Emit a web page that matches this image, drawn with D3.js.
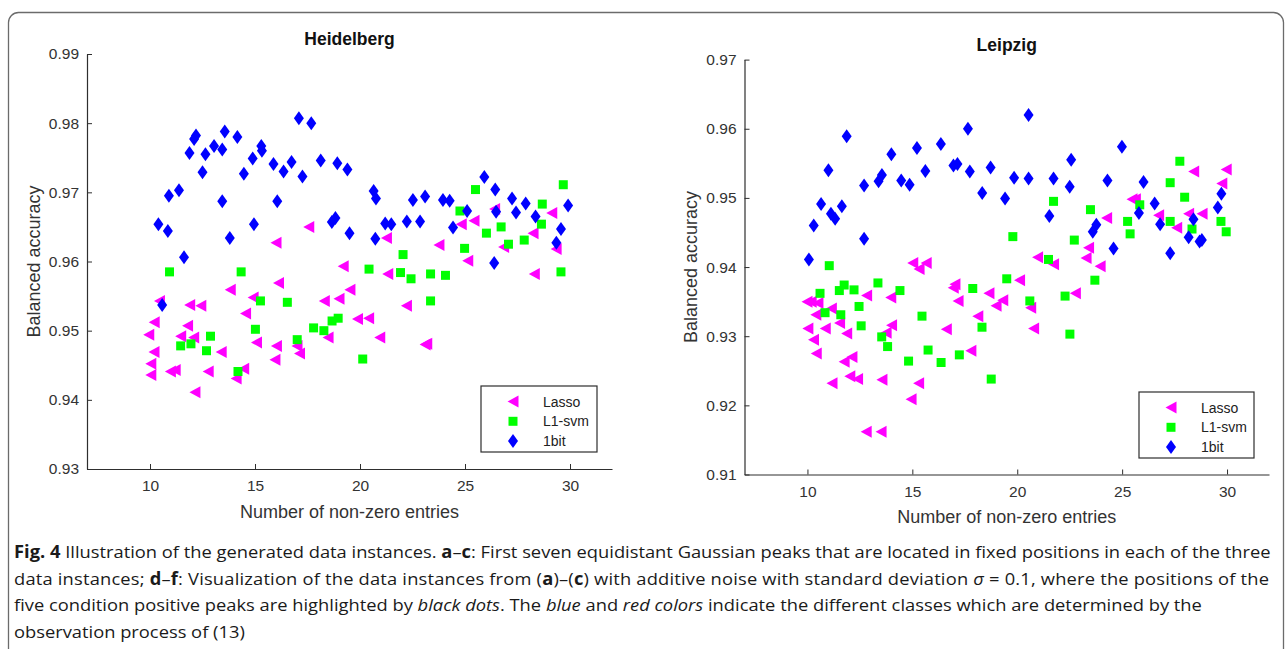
<!DOCTYPE html>
<html>
<head>
<meta charset="utf-8">
<script src="https://cdn.jsdelivr.net/npm/d3@7"></script>
<style>
  html, body { margin: 0; padding: 0; background: #ffffff; }
  svg { display: block; }
</style>
</head>
<body>
<svg id="chart" width="1288" height="649"></svg>
<script>
// ---------------- DATA ----------------
const seriesNames = ["Lasso", "L1-svm", "1bit"];
const xTicks = [10, 15, 20, 25, 30];
const heidelbergYTicks = [0.93, 0.94, 0.95, 0.96, 0.97, 0.98, 0.99];
const leipzigYTicks = [0.91, 0.92, 0.93, 0.94, 0.95, 0.96, 0.97];
const panelTitles = ["Heidelberg", "Leipzig"];
const xLabel = "Number of non-zero entries";
const yLabel = "Balanced accuracy";

const heidelbergLasso = [
  [9.94,0.9494],[10.19,0.9469],[10.04,0.9452],[10.04,0.9436],[10.2,0.9512],[10.45,0.9543],
  [10.97,0.9441],[11.2,0.9443],[11.46,0.9492],[11.79,0.9507],[11.89,0.9537],[12.08,0.9490],
  [12.14,0.9411],[12.42,0.9536],[12.77,0.9441],[13.39,0.9469],[13.82,0.9559],[14.1,0.9431],
  [14.46,0.9445],[14.55,0.9525],[14.91,0.9548],[15.07,0.9483],[16.0,0.9627],[16.12,0.9569],
  [16.02,0.9478],[15.95,0.9458],[17.0,0.9478],[17.12,0.9467],[17.56,0.965],[18.3,0.9543],
  [18.48,0.9490],[19.0,0.9546],[19.2,0.9593],[19.52,0.9559],[19.88,0.9517],[20.41,0.9518],
  [20.94,0.9490],[21.26,0.9634],[21.32,0.9582],[22.21,0.9536],[23.1,0.9480],[23.18,0.9481],
  [23.76,0.9624],[24.82,0.9654],[25.13,0.9601],[25.43,0.9659],[26.41,0.9676],[26.84,0.9621],
  [28.24,0.9641],[28.3,0.9582],[29.13,0.967],[29.34,0.9618]
];
const heidelbergL1svm = [
  [10.93,0.9585],[11.46,0.9478],[11.95,0.9481],[12.69,0.9471],[12.88,0.9492],[14.19,0.9441],
  [14.34,0.9585],[15.02,0.9502],[15.26,0.9543],[16.54,0.9541],[17.01,0.9487],[17.79,0.9504],
  [18.28,0.9500],[18.67,0.9514],[18.96,0.9518],[20.13,0.9459],[20.43,0.9589],[21.93,0.9584],
  [22.05,0.9610],[22.43,0.9575],[23.36,0.9582],[23.36,0.9543],[24.07,0.9580],[24.76,0.9673],
  [24.98,0.9619],[25.5,0.9704],[26.02,0.9641],[26.72,0.9650],[27.07,0.9625],[27.82,0.9631],
  [28.68,0.9683],[28.64,0.9654],[29.68,0.9711],[29.57,0.9585]
];
const heidelberg1bit = [
  [10.4,0.9654],[10.9,0.9695],[10.85,0.9644],[11.38,0.9703],[11.62,0.9606],[10.58,0.9537],
  [11.88,0.9757],[12.1,0.9777],[12.19,0.9782],[12.5,0.9729],[12.64,0.9755],[13.05,0.9767],
  [13.44,0.9762],[13.56,0.9788],[13.44,0.9687],[13.8,0.9634],[14.16,0.9780],[14.47,0.9727],
  [14.89,0.9749],[15.3,0.9767],[15.33,0.9760],[14.95,0.9654],[15.88,0.9741],[16.06,0.9687],
  [16.36,0.9730],[16.74,0.9744],[17.09,0.9807],[17.26,0.9723],[17.68,0.9800],[18.13,0.9746],
  [18.66,0.9657],[18.83,0.9663],[18.92,0.9742],[19.4,0.9733],[19.5,0.9641],[20.65,0.9702],
  [20.76,0.9691],[20.73,0.9633],[21.2,0.9655],[21.49,0.9654],[22.23,0.9658],[22.52,0.9689],
  [22.86,0.9658],[23.1,0.9694],[23.95,0.9689],[24.27,0.9688],[24.43,0.9649],[25.1,0.9673],
  [25.92,0.9722],[26.44,0.9704],[26.48,0.9672],[26.39,0.9598],[27.24,0.9691],[27.43,0.9671],
  [27.89,0.9684],[28.36,0.9665],[29.35,0.9627],[29.57,0.9647],[29.91,0.9681]
];

const leipzigLasso = [
  [9.98,0.9350],[10.18,0.9350],[10.5,0.9348],[10.4,0.9331],[10.02,0.9311],[10.29,0.9295],
  [10.42,0.9275],[10.85,0.9311],[11.14,0.9340],[11.17,0.9232],[11.53,0.9319],[11.75,0.9263],
  [11.87,0.9304],[12.02,0.9242],[12.12,0.9270],[12.39,0.9238],[12.82,0.9359],[12.8,0.9162],
  [13.55,0.9237],[13.51,0.9162],[13.75,0.9305],[13.97,0.9356],[14.01,0.9316],[14.94,0.9209],
  [15.3,0.9232],[15.02,0.9406],[15.32,0.9397],[15.66,0.9406],[16.62,0.9310],[16.95,0.9370],
  [17.03,0.9375],[17.18,0.9351],[17.79,0.9279],[18.12,0.9329],[18.65,0.9362],[18.99,0.9344],
  [19.31,0.9352],[20.11,0.9381],[20.64,0.9341],[20.78,0.9311],[20.97,0.9414],[21.73,0.9404],
  [22.77,0.9362],[23.28,0.9413],[23.4,0.9428],[23.95,0.9401],[24.26,0.9471],[25.47,0.9498],
  [25.63,0.9498],[26.74,0.9475],[27.6,0.9457],[28.17,0.9477],[28.41,0.9538],[28.81,0.9477],
  [29.75,0.9521],[29.96,0.9541]
];
const leipzigL1svm = [
  [10.6,0.9362],[10.84,0.9334],[11.04,0.9402],[11.52,0.9366],[11.59,0.9331],[11.75,0.9374],
  [12.22,0.9367],[12.46,0.9343],[12.56,0.9315],[13.36,0.9377],[13.54,0.9299],[13.82,0.9285],
  [14.41,0.9366],[14.82,0.9264],[15.46,0.9329],[15.75,0.9280],[16.37,0.9262],[17.24,0.9273],
  [17.88,0.9369],[18.32,0.9313],[18.76,0.9238],[19.5,0.9383],[19.79,0.9444],[20.6,0.9351],
  [21.49,0.9411],[21.73,0.9495],[22.28,0.9358],[22.51,0.9303],[22.72,0.9439],[23.49,0.9483],
  [23.7,0.9381],[25.26,0.9466],[25.38,0.9448],[25.84,0.9490],[27.29,0.9522],[27.29,0.9466],
  [27.75,0.9553],[27.98,0.9501],[28.33,0.9455],[29.71,0.9466],[29.96,0.9451]
];
const leipzig1bit = [
  [10.07,0.9411],[10.3,0.9460],[10.65,0.9491],[11.0,0.9540],[11.12,0.9477],[11.32,0.9470],
  [11.64,0.9488],[11.87,0.9589],[12.7,0.9518],[12.7,0.9441],[13.39,0.9524],[13.55,0.9533],
  [14.0,0.9563],[14.47,0.9525],[14.87,0.9519],[15.22,0.9572],[15.62,0.9539],[16.36,0.9578],
  [16.96,0.9547],[17.15,0.9549],[17.65,0.9600],[17.74,0.9538],[18.33,0.9507],[18.73,0.9544],
  [19.42,0.9499],[19.85,0.9529],[20.54,0.9620],[20.54,0.9528],[21.53,0.9474],[21.73,0.9528],
  [22.5,0.9516],[22.57,0.9555],[23.6,0.9451],[23.77,0.9461],[24.3,0.9525],[24.59,0.9427],
  [24.99,0.9574],[25.8,0.9478],[26.02,0.9523],[26.55,0.9492],[26.81,0.9462],[27.29,0.9420],
  [28.17,0.9443],[28.4,0.9469],[28.69,0.9437],[28.8,0.9439],[29.56,0.9486],[29.73,0.9506]
];

const captionLines = [
  [["b","Fig. 4"],["n"," Illustration of the generated data instances. "],["b","a"],["n","–"],["b","c"],["n",": First seven equidistant Gaussian peaks that are located in fixed positions in each of the three"]],
  [["n","data instances; "],["b","d"],["n","–"],["b","f"],["n",": Visualization of the data instances from ("],["b","a"],["n",")–("],["b","c"],["n",") with additive noise with standard deviation "],["i","σ"],["n"," = 0.1, where the positions of the"]],
  [["n","five condition positive peaks are highlighted by "],["i","black dots"],["n",". The "],["i","blue"],["n"," and "],["i","red colors"],["n"," indicate the different classes which are determined by the"]],
  [["n","observation process of (13)"]]
];

// ---------------- STYLE / LAYOUT ----------------
const colors = { "Lasso": "#ff00ff", "L1-svm": "#00ff00", "1bit": "#0000ff" };
const shapes = {
  "Lasso": "M-5.5,0L5.5,-6L5.5,6Z",
  "L1-svm": "M-4.5,-4.5h9v9h-9Z",
  "1bit": "M0,-7L5,0L0,7L-5,0Z"
};
const axisColor = "#2e2e2e";
const labelColor = "#333333";
const sans = "'Liberation Sans', Arial, sans-serif";

const svg = d3.select("#chart");

svg.append("rect")
  .attr("x", 8.5).attr("y", 12.5)
  .attr("width", 1275).attr("height", 720)
  .attr("rx", 10).attr("ry", 10)
  .attr("fill", "none").attr("stroke", "#6b6b6b").attr("stroke-width", 1.3);

const panels = [
  { title: panelTitles[0], yTicks: heidelbergYTicks,
    series: [heidelbergLasso, heidelbergL1svm, heidelberg1bit],
    x0: 87, x1: 612, yTop: 54, yBot: 469,
    titleY: 45, yLabelX: 40, xLabelY: 518,
    legend: { x: 481, y: 386, w: 116, h: 66 } },
  { title: panelTitles[1], yTicks: leipzigYTicks,
    series: [leipzigLasso, leipzigL1svm, leipzig1bit],
    x0: 744.5, x1: 1269, yTop: 59.6, yBot: 474.5,
    titleY: 51, yLabelX: 697, xLabelY: 523,
    legend: { x: 1139, y: 392, w: 115, h: 66 } }
];

panels.forEach(p => {
  const x = d3.scaleLinear().domain([7, 32]).range([p.x0, p.x1]);
  const y = d3.scaleLinear().domain([p.yTicks[0], p.yTicks[p.yTicks.length - 1]]).range([p.yBot, p.yTop]);
  const g = svg.append("g");

  const yAxis = d3.axisLeft(y).tickValues(p.yTicks).tickFormat(d3.format(".2f"))
    .tickSizeInner(-5).tickSizeOuter(0).tickPadding(8);
  const xAxis = d3.axisBottom(x).tickValues(xTicks).tickFormat(d3.format("d"))
    .tickSizeInner(-5).tickSizeOuter(0).tickPadding(11);

  const ya = g.append("g").attr("transform", `translate(${p.x0},0)`).call(yAxis);
  const xa = g.append("g").attr("transform", `translate(0,${p.yBot})`).call(xAxis);
  [ya, xa].forEach(a => {
    a.select(".domain").attr("stroke", axisColor).attr("stroke-width", 1.2);
    a.selectAll(".tick line").attr("stroke", axisColor).attr("stroke-width", 1);
    a.selectAll(".tick text").attr("fill", labelColor)
      .style("font-family", sans).style("font-size", "15.5px");
  });

  g.append("text").attr("x", (p.x0 + p.x1) / 2).attr("y", p.titleY)
    .attr("text-anchor", "middle")
    .style("font-family", sans)
    .style("font-size", "17.5px").style("font-weight", "bold").attr("fill", "#111")
    .text(p.title);

  g.append("text").attr("x", (p.x0 + p.x1) / 2).attr("y", p.xLabelY)
    .attr("text-anchor", "middle")
    .style("font-family", sans)
    .style("font-size", "18px").attr("fill", labelColor)
    .text(xLabel);
  g.append("text")
    .attr("transform", `translate(${p.yLabelX},${(p.yTop + p.yBot) / 2}) rotate(-90)`)
    .attr("text-anchor", "middle")
    .style("font-family", sans)
    .style("font-size", "18px").attr("fill", labelColor)
    .text(yLabel);

  p.series.forEach((data, i) => {
    const name = seriesNames[i];
    g.append("g").selectAll("path").data(data).join("path")
      .attr("d", shapes[name])
      .attr("transform", d => `translate(${x(d[0])},${y(d[1])})`)
      .attr("fill", colors[name]);
  });

  const L = p.legend;
  const lg = g.append("g").attr("transform", `translate(${L.x},${L.y})`);
  lg.append("rect").attr("width", L.w).attr("height", L.h)
    .attr("fill", "#fff").attr("stroke", axisColor).attr("stroke-width", 1.2);
  seriesNames.forEach((name, i) => {
    const cy = 15.5 + i * 19.8;
    lg.append("path").attr("d", shapes[name])
      .attr("transform", `translate(32,${cy})`).attr("fill", colors[name]);
    lg.append("text").attr("x", 62).attr("y", cy).attr("dy", "0.36em")
      .style("font-family", sans)
      .style("font-size", "14px").attr("fill", "#222")
      .text(name);
  });
});

// caption: one common horizontal scale, first two lines justified to the full width
const capX = 14;
const capBaselines = [558, 585, 611, 638];
const capRight = 1272;
const capG = svg.append("g");
const capTexts = captionLines.map((line, i) => {
  const t = capG.append("text").attr("x", 0).attr("y", capBaselines[i])
    .style("font-family", "'Open Sans', 'Noto Sans', sans-serif")
    .style("font-size", "17px").attr("fill", "#1a1a1a");
  line.forEach(([k, s]) => {
    const ts = t.append("tspan").text(s);
    if (k === "b") ts.style("font-weight", "bold");
    if (k === "i") ts.style("font-style", "italic");
  });
  return t;
});
const natural1 = capTexts[0].node().getComputedTextLength();
const kx = (capRight - capX) / natural1;
capG.attr("transform", `translate(${capX},0) scale(${kx},1)`);
capTexts[1].attr("textLength", (capRight - 3 - capX) / kx).attr("lengthAdjust", "spacing");
</script>
</body>
</html>
